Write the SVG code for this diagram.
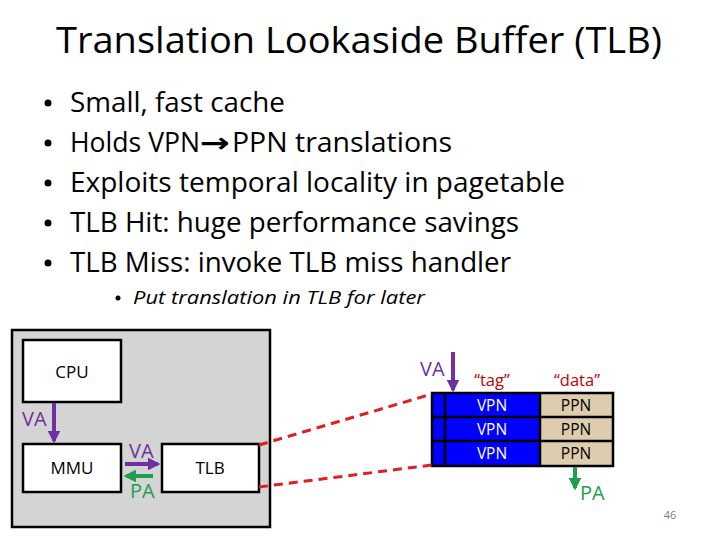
<svg xmlns="http://www.w3.org/2000/svg" width="720" height="540" viewBox="0 0 720 540">
<style>
text{font-family:"Open Sans","Liberation Sans",sans-serif;}
.title{font-size:37px;fill:#000;}
.bul{font-size:27px;fill:#000;}
.box{fill:#fff;stroke:#000;stroke-width:2.5;}
.lbl{font-size:17px;fill:#000;text-anchor:middle;}
.pur{fill:#7030A0;font-size:20px;}
.grn{fill:#1E9E50;font-size:20px;}
.cell{font-size:15.5px;text-anchor:middle;}
.dash{stroke:#E02020;stroke-width:3;stroke-dasharray:9,6;fill:none;}
</style>
<defs>
<marker id="ap" viewBox="0 0 10 10" refX="8" refY="5" markerWidth="3.2" markerHeight="3.2" orient="auto"><path d="M0,0 L10,5 L0,10 z" fill="#7030A0"/></marker>
<marker id="ag" viewBox="0 0 10 10" refX="8" refY="5" markerWidth="3.2" markerHeight="3.2" orient="auto"><path d="M0,0 L10,5 L0,10 z" fill="#1E9E50"/></marker>
</defs>
<rect width="720" height="540" fill="#fff"/>
<text class="title" x="359" y="53" text-anchor="middle" textLength="606" lengthAdjust="spacingAndGlyphs">Translation Lookaside Buffer (TLB)</text>
<g class="bul">
<circle cx="48" cy="103" r="3.5"/><text x="70" y="112" textLength="215" lengthAdjust="spacingAndGlyphs">Small, fast cache</text>
<circle cx="48" cy="143" r="3.5"/><text x="70" y="152" textLength="130" lengthAdjust="spacingAndGlyphs">Holds VPN</text>
<text x="200" y="152" style="font-family:'DejaVu Sans',sans-serif;font-weight:bold" font-size="27" textLength="30" lengthAdjust="spacingAndGlyphs">→</text>
<text x="232" y="152" textLength="220" lengthAdjust="spacingAndGlyphs">PPN translations</text>
<circle cx="48" cy="183" r="3.5"/><text x="70" y="192" textLength="495" lengthAdjust="spacingAndGlyphs">Exploits temporal locality in pagetable</text>
<circle cx="48" cy="223" r="3.5"/><text x="70" y="232" textLength="449" lengthAdjust="spacingAndGlyphs">TLB Hit: huge performance savings</text>
<circle cx="48" cy="263" r="3.5"/><text x="70" y="272" textLength="441" lengthAdjust="spacingAndGlyphs">TLB Miss: invoke TLB miss handler</text>
<circle cx="118" cy="298" r="2.5"/><text x="133" y="304" font-size="19" font-style="italic" textLength="292" lengthAdjust="spacingAndGlyphs">Put translation in TLB for later</text>
</g>
<rect x="12" y="330" width="258" height="197" fill="#D4D4D4" stroke="#000" stroke-width="2.5"/>
<g id="cpu"><rect class="box" x="23" y="340" width="98" height="62"/><text class="lbl" x="72" y="378">CPU</text></g>
<g id="mmu"><rect class="box" x="23" y="444" width="98" height="48"/><text class="lbl" x="72" y="474">MMU</text></g>
<g id="tlb"><rect class="box" x="162" y="444" width="97" height="48"/><text class="lbl" x="210" y="474">TLB</text></g>
<g id="table">
<rect x="432" y="393" width="108" height="73" fill="#0000FF"/>
<rect x="540" y="393" width="73" height="73" fill="#DDCCAE"/>
<g stroke="#000" stroke-width="2.5" fill="none">
<rect x="432" y="393" width="181" height="73"/>
<line x1="432" y1="417" x2="613" y2="417"/>
<line x1="432" y1="441" x2="613" y2="441"/>
<line x1="445" y1="393" x2="445" y2="466"/>
<line x1="540" y1="393" x2="540" y2="466"/>
</g>
<text class="cell" x="492" y="411" fill="#fff">VPN</text>
<text class="cell" x="492" y="435" fill="#fff">VPN</text>
<text class="cell" x="492" y="459" fill="#fff">VPN</text>
<text class="cell" x="576" y="411" fill="#000">PPN</text>
<text class="cell" x="576" y="435" fill="#000">PPN</text>
<text class="cell" x="576" y="459" fill="#000">PPN</text>
<text x="492" y="386" font-size="16.5" fill="#C00000" text-anchor="middle">“tag”</text>
<text x="577" y="386" font-size="16.5" fill="#C00000" text-anchor="middle">“data”</text>
</g>
<g id="connectors">
<line class="dash" x1="259" y1="445" x2="432" y2="394"/>
<line class="dash" x1="259" y1="487" x2="432" y2="465"/>
<line x1="54" y1="403" x2="54" y2="441" stroke="#7030A0" stroke-width="4" marker-end="url(#ap)"/>
<line x1="125" y1="464" x2="158" y2="464" stroke="#7030A0" stroke-width="4" marker-end="url(#ap)"/>
<line x1="153" y1="476" x2="126" y2="476" stroke="#1E9E50" stroke-width="4" marker-end="url(#ag)"/>
<line x1="453" y1="352" x2="453" y2="390" stroke="#7030A0" stroke-width="4" marker-end="url(#ap)"/>
<line x1="575" y1="467" x2="575" y2="488" stroke="#1E9E50" stroke-width="4" marker-end="url(#ag)"/>
</g>
<text class="pur" x="22" y="426">VA</text>
<text class="pur" x="129" y="458">VA</text>
<text class="grn" x="130" y="498">PA</text>
<text class="pur" x="420" y="376">VA</text>
<text class="grn" x="580" y="500">PA</text>
<text x="670" y="519" font-size="11" fill="#7F7F7F" text-anchor="middle">46</text>
</svg>
